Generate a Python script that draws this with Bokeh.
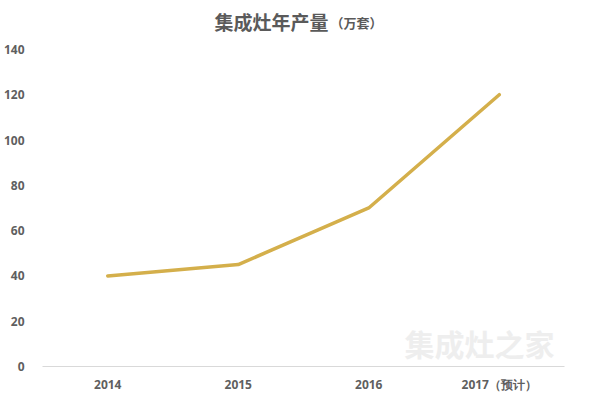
from bokeh.plotting import figure
from bokeh.models import Range1d, Label, FactorRange
from bokeh.embed import file_html
from bokeh.resources import INLINE

years = ["2014", "2015", "2016", "2017（预计）"]
output = [40, 45, 70, 120]
y_ticks = [0, 20, 40, 60, 80, 100, 120, 140]
title_main = "集成灶年产量"
title_unit = "（万套）"

# the frame is extended upward so that the title labels (screen units, clipped to frame) are visible
p = figure(width=584, height=400, output_backend="svg", toolbar_location=None,
           x_range=FactorRange(*years), y_range=Range1d(0, 161.6),
           min_border_left=0, min_border_right=20, min_border_top=0, min_border_bottom=34)
p.outline_line_color = None
p.background_fill_color = "white"
p.border_fill_color = "white"

p.line(x=years, y=output, line_color="#D4AF4B", line_width=3.5, line_cap="round")

p.xgrid.grid_line_color = None
p.ygrid.grid_line_color = None

p.yaxis.ticker = y_ticks
p.yaxis.axis_line_color = None
p.yaxis.major_tick_line_color = None
p.yaxis.minor_tick_line_color = None
p.yaxis.major_label_standoff = 12
p.yaxis.major_label_text_font = "Open Sans"
p.yaxis.major_label_text_font_style = "bold"
p.yaxis.major_label_text_font_size = "12px"
p.yaxis.major_label_text_color = "#5f5f5f"

p.xaxis.axis_line_color = "#d9d9d9"
p.xaxis.axis_line_width = 1
p.xaxis.major_tick_line_color = None
p.xaxis.minor_tick_line_color = None
p.xaxis.major_label_standoff = 3
p.xaxis.major_label_text_font = "Open Sans"
p.xaxis.major_label_text_font_style = "bold"
p.xaxis.major_label_text_font_size = "12px"
p.xaxis.major_label_text_color = "#5f5f5f"

# watermark (faint)
p.add_layout(Label(x=362, y=2, x_units="screen", y_units="screen", text="集成灶之家",
                   text_font="Noto Sans CJK SC", text_font_style="bold", text_font_size="30px",
                   text_color="#eeeeee"))

# title (screen units are relative to the plot frame)
p.add_layout(Label(x=172, y=345, x_units="screen", y_units="screen", text=title_main,
                   text_font="Noto Sans CJK SC", text_font_style="bold", text_font_size="19px",
                   text_color="#5a5a5a", text_baseline="middle"))
p.add_layout(Label(x=288, y=344, x_units="screen", y_units="screen", text=title_unit,
                   text_font="Noto Sans CJK SC", text_font_style="bold", text_font_size="13px",
                   text_color="#5a5a5a", text_baseline="middle"))

open("out.html", "w").write(file_html(p, INLINE))
